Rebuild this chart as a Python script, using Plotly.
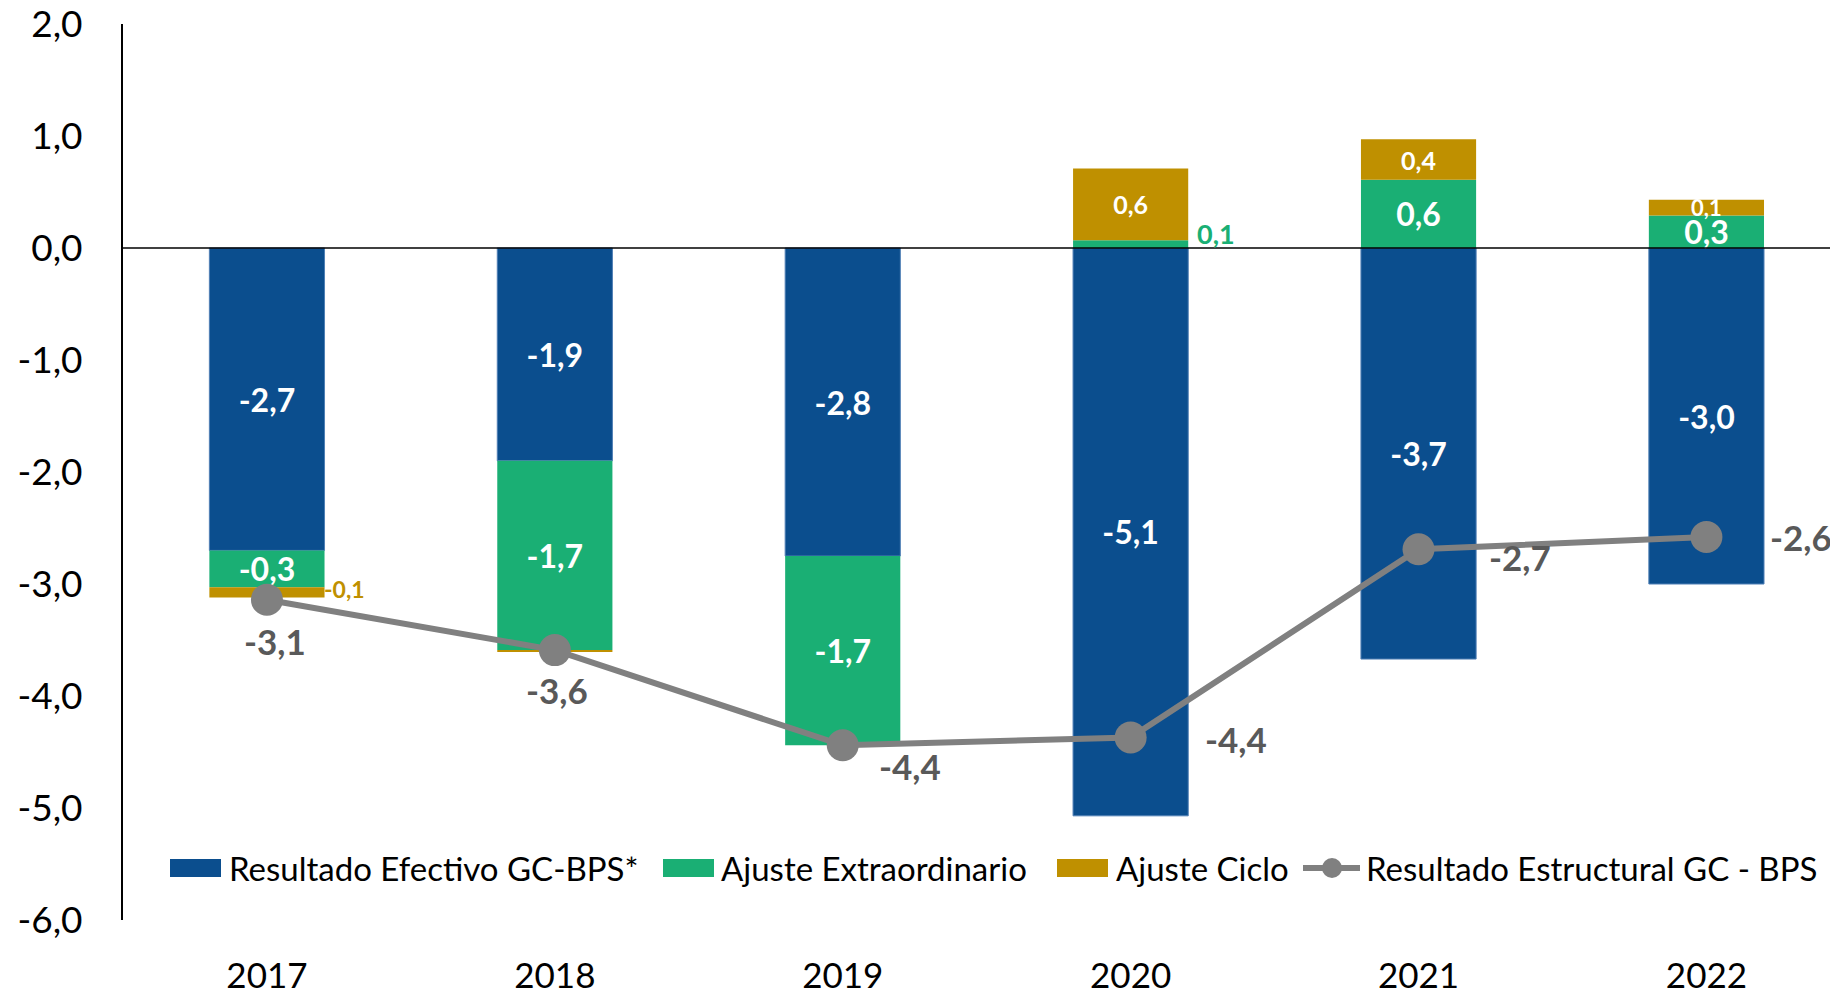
import plotly.graph_objects as go

# datos (en % del PIB)
years = ["2017", "2018", "2019", "2020", "2021", "2022"]
efectivo = [-2.70, -1.90, -2.75, -5.07, -3.67, -3.00]
extraordinario = [-0.33, -1.69, -1.69, 0.07, 0.61, 0.29]
ciclo = [-0.09, -0.01, 0.0, 0.64, 0.36, 0.14]
estructural = [-3.14, -3.59, -4.44, -4.37, -2.69, -2.58]
series_names = ["Resultado Efectivo GC-BPS*", "Ajuste Extraordinario",
                "Ajuste Ciclo", "Resultado Estructural GC - BPS"]
y_ticks = [-6, -5, -4, -3, -2, -1, 0, 1, 2]

AZUL = "#0B4E8E"
VERDE = "#1AAF74"
ORO = "#BF9000"
GRIS = "#808080"
GRIS_TXT = "#595959"
FONT = "Lato"

# la página tiene 8px de margen en el body
OFF = 8
W, H = 1838 - OFF, 994 - OFF
ML, MR, MT, MB = 123 - OFF, 0, 24 - OFF, 74

# área del gráfico en pixeles de pantalla
X0, X1, Y0, Y1 = 123, 1838, 24, 920


def fmt(v):
    return f"{v:.1f}".replace(".", ",")


def px_x(p):
    return (p - X0) / (X1 - X0)


def px_y(p):
    return (Y1 - p) / (Y1 - Y0)


fig = go.Figure()

# barras apiladas
fig.add_trace(go.Bar(
    x=years, y=efectivo, name=series_names[0], marker_color=AZUL,
    marker_line=dict(color="#4F7FB5", width=1),
    text=[fmt(v) for v in efectivo], textposition="inside",
    insidetextanchor="middle", textangle=0, constraintext="none",
    textfont=dict(family=FONT, size=32, color="white", weight="bold"),
    width=0.4,
))
fig.add_trace(go.Bar(
    x=years, y=extraordinario, name=series_names[1], marker_color=VERDE,
    marker_line_width=0,
    text=[fmt(v) if abs(v) >= 0.2 else "" for v in extraordinario],
    textposition="inside", insidetextanchor="middle", textangle=0,
    constraintext="none",
    textfont=dict(family=FONT, size=32, color="white", weight="bold"),
    width=0.4,
))
fig.add_trace(go.Bar(
    x=years, y=ciclo, name=series_names[2], marker_color=ORO,
    marker_line_width=0,
    text=[fmt(v) if v > 0 else "" for v in ciclo],
    textposition="inside", insidetextanchor="middle", textangle=0,
    constraintext="none",
    textfont=dict(family=FONT, size=[22, 22, 22, 25, 25, 22], color="white",
                  weight="bold"),
    width=0.4,
))

# línea estructural
fig.add_trace(go.Scatter(
    x=years, y=estructural, name=series_names[3], mode="lines+markers",
    line=dict(color=GRIS, width=6), marker=dict(color=GRIS, size=32),
))

# etiquetas de la línea (x como índice de categoría)
shifts = [(8, -41), (2, -40), (67, -21), (105, -2), (101, -8), (95, 0)]
for i, (v, (dx, dy)) in enumerate(zip(estructural, shifts)):
    fig.add_annotation(x=i, y=v, text=f"<b>{fmt(v)}</b>", showarrow=False,
                       xshift=dx, yshift=dy,
                       font=dict(family=FONT, size=35, color=GRIS_TXT))

# etiquetas fuera de las barras
fig.add_annotation(x=0, y=efectivo[0] + extraordinario[0] + ciclo[0] / 2,
                   text=f"<b>{fmt(ciclo[0])}</b>", showarrow=False,
                   xanchor="left", xshift=55, yshift=3,
                   font=dict(family=FONT, size=23, color=ORO))
fig.add_annotation(x=3, y=extraordinario[3] / 2,
                   text=f"<b>{fmt(extraordinario[3])}</b>", showarrow=False,
                   xanchor="left", xshift=64, yshift=11,
                   font=dict(family=FONT, size=27, color=VERDE))

# línea del cero por encima de las barras
fig.add_shape(type="line", xref="paper", yref="y", x0=0, x1=1, y0=0, y1=0,
              line=dict(color="black", width=1.5), layer="above")

# leyenda manual
legend_items = [
    (series_names[0], AZUL, 170, 227),
    (series_names[1], VERDE, 663, 719),
    (series_names[2], ORO, 1057, 1114),
]
for name, col, sx, tx in legend_items:
    fig.add_shape(type="rect", xref="paper", yref="paper",
                  x0=px_x(sx), x1=px_x(sx + 51), y0=px_y(877), y1=px_y(859),
                  fillcolor=col, line_width=0)
    fig.add_annotation(xref="paper", yref="paper", x=px_x(tx), y=px_y(868),
                       text=name, showarrow=False, xanchor="left",
                       yanchor="middle",
                       font=dict(family=FONT, size=33, color="black"))
fig.add_shape(type="line", xref="paper", yref="paper",
              x0=px_x(1303), x1=px_x(1360), y0=px_y(868), y1=px_y(868),
              line=dict(color=GRIS, width=6))
fig.add_shape(type="circle", xref="paper", yref="paper",
              x0=px_x(1322), x1=px_x(1342), y0=px_y(878), y1=px_y(858),
              fillcolor=GRIS, line_width=0)
fig.add_annotation(xref="paper", yref="paper", x=px_x(1364), y=px_y(868),
                   text=series_names[3], showarrow=False, xanchor="left",
                   yanchor="middle",
                   font=dict(family=FONT, size=33, color="black"))

fig.update_layout(
    barmode="relative",
    width=W, height=H,
    margin=dict(l=ML, r=MR, t=MT, b=MB, autoexpand=False),
    plot_bgcolor="white", paper_bgcolor="white",
    showlegend=False,
    font=dict(family=FONT, color="black"),
)
fig.update_xaxes(type="category", range=[-0.5, 5.457], showline=False,
                 showgrid=False, zeroline=False, ticks="", automargin=False,
                 tickfont=dict(family=FONT, size=35, color="black"),
                 ticklabelstandoff=32)
fig.update_yaxes(range=[-6, 2], tickvals=y_ticks,
                 ticktext=[fmt(v) for v in y_ticks],
                 showline=True, linecolor="black", linewidth=2,
                 showgrid=False, zeroline=False, ticks="", automargin=False,
                 ticklabeloverflow="allow",
                 tickfont=dict(family=FONT, size=37, color="black"),
                 ticklabelstandoff=31, layer="above traces")

fig.write_html("out.html")
